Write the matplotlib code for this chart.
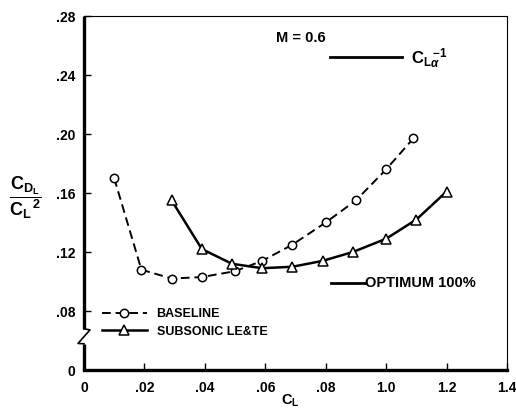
import matplotlib
matplotlib.use('Agg')
import matplotlib.pyplot as plt
import matplotlib.transforms as mtransforms

plt.rcParams['font.family'] = ['Liberation Sans', 'DejaVu Sans']
plt.rcParams['font.weight'] = 'bold'
plt.rcParams['mathtext.fontset'] = 'custom'
plt.rcParams['mathtext.rm'] = 'Liberation Sans:bold'
plt.rcParams['mathtext.bf'] = 'Liberation Sans:bold'
plt.rcParams['mathtext.it'] = 'Liberation Sans:bold:italic'

# baseline (circles, dashed)
cl_base = [0.010, 0.019, 0.029, 0.039, 0.050, 0.059, 0.069, 0.080, 0.090, 0.100, 0.109]
cd_base = [0.170, 0.108, 0.102, 0.103, 0.107, 0.114, 0.125, 0.140, 0.155, 0.176, 0.197]

# subsonic LE&TE (triangles, solid)
cl_sub = [0.029, 0.039, 0.049, 0.059, 0.069, 0.079, 0.089, 0.100, 0.110, 0.120]
cd_sub = [0.155, 0.122, 0.112, 0.109, 0.110, 0.114, 0.120, 0.129, 0.142, 0.161]

x_ticks = [0, 0.02, 0.04, 0.06, 0.08, 0.10, 0.12, 0.14]
x_labels = ['0', '.02', '.04', '.06', '.08', '1.0', '1.2', '1.4']
y_ticks = [0.04, 0.08, 0.12, 0.16, 0.20, 0.24, 0.28]
y_labels = ['0', '.08', '.12', '.16', '.20', '.24', '.28']

fig = plt.figure(figsize=(5.16, 4.11), dpi=100)
ax = fig.add_axes([84 / 516, 41 / 411, 423 / 516, 354 / 411])

ax.plot(cl_base, cd_base, color='black', lw=1.4, dashes=(4.5, 2.5),
        marker='o', ms=6, mfc='white', mec='black', mew=1.1, label='BASELINE')
ax.plot(cl_sub, cd_sub, color='black', lw=1.8,
        marker='^', ms=7, mfc='white', mec='black', mew=1.1, label='SUBSONIC LE&TE')

ax.set_xlim(0, 0.14)
ax.set_ylim(0.04, 0.28)
ax.set_xticks(x_ticks)
ax.set_xticklabels(x_labels)
ax.set_yticks(y_ticks)
ax.set_yticklabels(y_labels)
ax.tick_params(direction='in', length=5, width=1.0, labelsize=10, pad=6)
ax.tick_params(axis='x', pad=8)

for side in ['top', 'right']:
    ax.spines[side].set_linewidth(0.8)
ax.spines['bottom'].set_linewidth(2.4)
ax.spines['left'].set_visible(False)

# left spine with axis break
trans = mtransforms.blended_transform_factory(ax.transAxes, ax.transData)
dx = 6 / 423
ax.plot([0, 0], [0.04, 0.0578], transform=trans, color='black', lw=2.4,
        clip_on=False, solid_capstyle='butt')
ax.plot([0, -dx, dx, 0], [0.0578, 0.0580, 0.0672, 0.0679], transform=trans,
        color='black', lw=1.2, clip_on=False)
ax.plot([0, 0], [0.0679, 0.28], transform=trans, color='black', lw=2.4,
        clip_on=False, solid_capstyle='butt')

leg = ax.legend(loc='lower left', bbox_to_anchor=(0.015, 0.06), frameon=False,
                handlelength=3.6, handletextpad=0.8, labelspacing=0.45,
                prop={'weight': 'bold', 'size': 9})

# annotations
ax.text(0.513, 0.938, 'M = 0.6', transform=ax.transAxes, fontsize=10.5,
        fontweight='bold', ha='center', va='center')
ax.plot([0.582, 0.752], [0.884, 0.884], transform=ax.transAxes,
        color='black', lw=2.0)
ax.text(0.772, 0.88, r'$\mathrm{C_{L}}_{\alpha}^{\,\mathrm{-1}}$', transform=ax.transAxes,
        fontsize=12, ha='left', va='center')
ax.plot([0.583, 0.665], [0.245, 0.245], transform=ax.transAxes,
        color='black', lw=2.0)
ax.text(0.665, 0.245, 'OPTIMUM 100%', transform=ax.transAxes, fontsize=10.5,
        fontweight='bold', ha='left', va='center')

fig.text(290 / 516, 1 - 401 / 411, r'$\mathrm{C_L}$', fontsize=10.5,
         ha='center', va='center')
fig.text(25 / 516, 1 - 198 / 411, r'$\dfrac{\mathrm{C_{D_L}}}{\mathrm{C_L}^{\,2}}$',
         fontsize=13, ha='center', va='center')

fig.savefig('out.png', dpi=100)
